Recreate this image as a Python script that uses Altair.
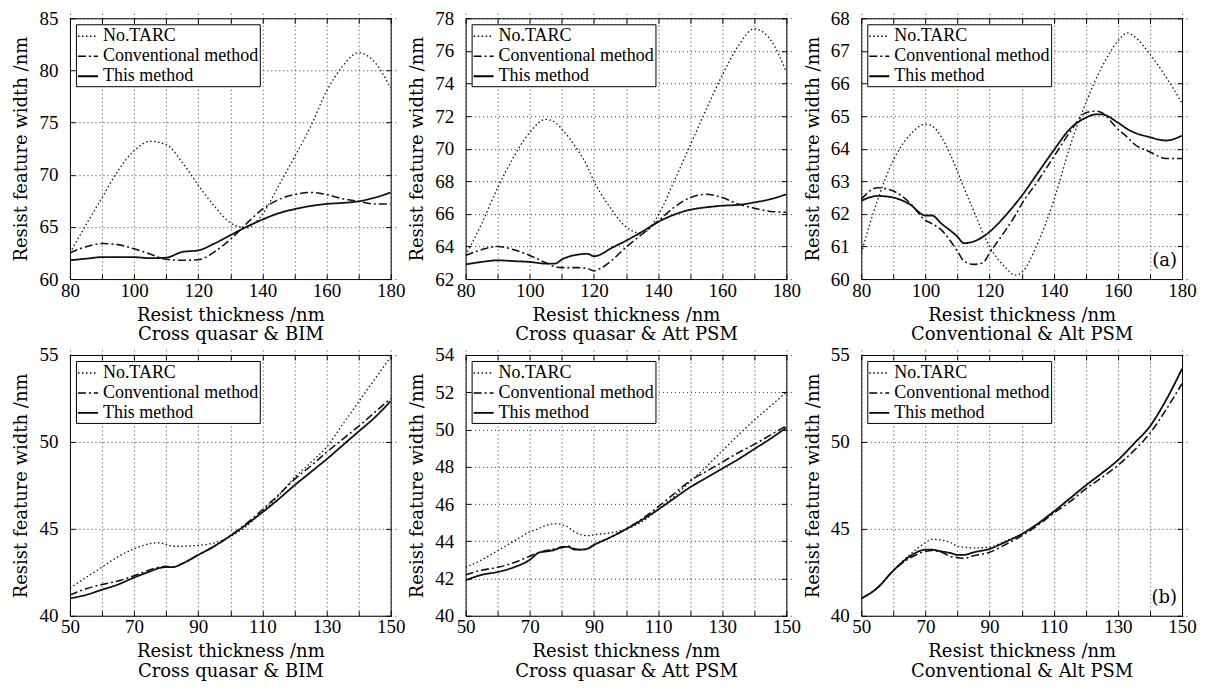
import altair as alt
import pandas as pd

SERIES = ["No.TARC", "Conventional method", "This method"]
DASHES = [[1.5, 2.5], [8, 3, 2, 3], [1, 0]]
WIDTHS = [1.3, 1.8, 2.5]

# ---------- top row (a) ----------
X1 = [80, 85, 90, 95, 100, 105, 110, 115, 120, 125, 130, 135, 140, 145, 150, 155, 160, 165, 170, 175, 180]
NOTARC1 = [62.5, 65.2, 67.8, 70.4, 72.3, 73.2, 72.9, 71.2, 69.0, 67.0, 65.4, 64.9, 66.2, 68.9, 71.7, 74.6, 78.0, 80.4, 81.7, 80.8, 78.3]
CONV1 = [62.5, 63.1, 63.4, 63.3, 62.9, 62.4, 61.9, 61.8, 61.85, 62.6, 63.8, 65.3, 66.7, 67.6, 68.1, 68.3, 68.1, 67.7, 67.45, 67.2, 67.2]
THIS1 = [61.8, 61.95, 62.1, 62.1, 62.1, 62.0, 62.05, 62.6, 62.75, 63.4, 64.2, 65.0, 65.7, 66.3, 66.7, 67.0, 67.2, 67.3, 67.45, 67.8, 68.3]

X2 = [80, 85, 90, 95, 100, 105, 108, 110, 115, 118, 120, 122, 125, 130, 135, 140, 145, 150, 155, 160, 165, 170, 175, 180]
NOTARC2 = [63.45, 65.4, 67.6, 69.5, 71.0, 71.8, 71.6, 71.2, 69.9, 68.9, 68.0, 67.3, 66.4, 65.2, 64.8, 65.9, 68.0, 70.2, 72.4, 74.5, 76.3, 77.35, 76.7, 74.7]
CONV2 = [63.45, 63.8, 64.0, 63.8, 63.45, 63.0, 62.75, 62.7, 62.7, 62.65, 62.5, 62.65, 63.05, 63.95, 64.75, 65.55, 66.4, 67.0, 67.2, 67.0, 66.6, 66.35, 66.15, 66.1]
THIS2 = [62.9, 63.05, 63.15, 63.1, 63.05, 62.95, 62.95, 63.2, 63.5, 63.55, 63.4, 63.5, 63.85, 64.35, 64.9, 65.5, 65.95, 66.25, 66.4, 66.5, 66.55, 66.7, 66.9, 67.2]

X3 = [80, 85, 90, 95, 100, 102, 105, 110, 112, 115, 118, 120, 125, 128, 130, 135, 140, 145, 150, 153, 155, 160, 163, 165, 170, 175, 180]
NOTARC3 = [60.8, 62.4, 63.65, 64.4, 64.75, 64.7, 64.35, 63.3, 62.8, 62.1, 61.4, 61.0, 60.35, 60.12, 60.2, 61.1, 62.4, 64.05, 65.4, 66.1, 66.5, 67.3, 67.55, 67.45, 66.9, 66.2, 65.4]
CONV3 = [62.45, 62.8, 62.7, 62.35, 61.8, 61.7, 61.5, 60.85, 60.55, 60.45, 60.5, 60.8, 61.5, 61.95, 62.3, 63.0, 63.75, 64.5, 65.1, 65.15, 65.1, 64.6, 64.35, 64.15, 63.9, 63.7, 63.7]
THIS3 = [62.4, 62.55, 62.5, 62.3, 61.95, 61.95, 61.7, 61.3, 61.1, 61.15, 61.3, 61.45, 61.95, 62.3, 62.55, 63.25, 63.95, 64.6, 64.95, 65.05, 65.05, 64.8, 64.6, 64.5, 64.35, 64.25, 64.4]

# ---------- bottom row (b) ----------
X4 = [50, 55, 60, 65, 70, 75, 78, 80, 82, 85, 90, 95, 100, 105, 110, 115, 120, 125, 130, 135, 140, 145, 150]
NOTARC4 = [41.6, 42.2, 42.8, 43.4, 43.85, 44.15, 44.2, 44.1, 44.0, 44.0, 44.05, 44.2, 44.55, 45.15, 46.0, 46.9, 47.95, 48.8, 49.7, 51.0, 52.3, 53.6, 54.9]
CONV4 = [41.2, 41.55, 41.8, 42.0, 42.3, 42.65, 42.8, 42.85, 42.8, 43.0, 43.5, 44.0, 44.6, 45.3, 46.1, 46.95, 47.85, 48.6, 49.4, 50.15, 50.9, 51.7, 52.5]
THIS4 = [41.0, 41.2, 41.5, 41.8, 42.2, 42.55, 42.75, 42.8, 42.8, 43.0, 43.5, 44.0, 44.6, 45.25, 45.95, 46.7, 47.5, 48.25, 49.0, 49.8, 50.6, 51.4, 52.35]

X5 = [50, 55, 60, 65, 70, 73, 75, 78, 80, 82, 84, 86, 88, 90, 95, 100, 105, 110, 115, 120, 125, 130, 135, 140, 145, 150]
NOTARC5 = [42.6, 43.0, 43.5, 44.0, 44.5, 44.7, 44.85, 44.95, 44.9, 44.75, 44.5, 44.35, 44.3, 44.35, 44.45, 44.65, 45.05, 45.7, 46.4, 47.2, 48.0, 48.85, 49.7, 50.5, 51.25, 52.0]
CONV5 = [42.2, 42.45, 42.6, 42.85, 43.2, 43.4, 43.5, 43.6, 43.65, 43.75, 43.6, 43.55, 43.6, 43.8, 44.2, 44.65, 45.2, 45.85, 46.55, 47.25, 47.75, 48.25, 48.75, 49.2, 49.7, 50.2]
THIS5 = [41.9, 42.2, 42.35, 42.6, 43.0, 43.4, 43.45, 43.55, 43.7, 43.7, 43.55, 43.55, 43.6, 43.8, 44.2, 44.65, 45.15, 45.7, 46.3, 46.9, 47.4, 47.9, 48.4, 48.95, 49.5, 50.1]

X6 = [50, 55, 60, 65, 70, 72, 75, 78, 80, 82, 85, 90, 95, 100, 105, 110, 115, 120, 125, 130, 135, 140, 145, 150]
NOTARC6 = [41.0, 41.6, 42.6, 43.5, 44.2, 44.4, 44.35, 44.2, 44.0, 43.95, 43.9, 43.95, 44.3, 44.7, 45.25, 45.95, 46.7, 47.5, 48.2, 48.95, 49.9, 50.9, 52.4, 54.2]
CONV6 = [41.0, 41.6, 42.6, 43.3, 43.7, 43.75, 43.65, 43.4, 43.35, 43.3, 43.45, 43.65, 44.1, 44.6, 45.2, 45.9, 46.55, 47.3, 47.95, 48.65, 49.5, 50.5, 51.85, 53.35]
THIS6 = [41.0, 41.6, 42.6, 43.4, 43.8, 43.8, 43.7, 43.6, 43.5, 43.5, 43.65, 43.85, 44.25, 44.7, 45.3, 46.0, 46.75, 47.5, 48.2, 48.95, 49.9, 50.9, 52.4, 54.2]

XT_TOP = [80, 90, 100, 110, 120, 130, 140, 150, 160, 170, 180]
XT_BOT = [50, 60, 70, 80, 90, 100, 110, 120, 130, 140, 150]

W, H = 321, 261


def panel(x, ys, xdom, xvals, xstart, ydom, yvals, subtitle, tag=None):
    rows = []
    for name, y in zip(SERIES, ys):
        for xi, yi in zip(x, y):
            rows.append({"t": xi, "w": yi, "s": name})
    df = pd.DataFrame(rows)
    xscale = alt.Scale(domain=xdom, nice=False, zero=False)
    yscale = alt.Scale(domain=ydom, nice=False, zero=False)
    leg = alt.Legend(
        title=None, orient="top-left", offset=6, padding=1,
        strokeColor="black", fillColor="white",
        labelFont="Liberation Serif", labelFontSize=18, labelColor="black",
        symbolType="stroke", symbolSize=400, symbolStrokeColor="black",
        rowPadding=-1, labelOffset=4, cornerRadius=0,
    )
    lines = alt.Chart(df).mark_line(color="#111", interpolate="monotone", clip=True).encode(
        x=alt.X("t:Q", scale=xscale, axis=alt.Axis(
            values=xvals,
            labelExpr=f"(datum.value - {xstart}) % 20 == 0 ? datum.label : ''",
            title=["Resist thickness /nm", subtitle],
        )),
        y=alt.Y("w:Q", scale=yscale, axis=alt.Axis(values=yvals, title="Resist feature width /nm")),
        strokeDash=alt.StrokeDash("s:N", scale=alt.Scale(domain=SERIES, range=DASHES), legend=leg),
        strokeWidth=alt.StrokeWidth("s:N", scale=alt.Scale(domain=SERIES, range=WIDTHS), legend=leg),
    )
    ticks = alt.Chart(df).mark_point(opacity=0).encode(
        x=alt.X("t:Q", scale=xscale, axis=alt.Axis(
            orient="top", values=xvals, labels=False, grid=False, title=None)),
        y=alt.Y("w:Q", scale=yscale, axis=alt.Axis(
            orient="right", values=yvals, labels=False, grid=False, title=None)),
    )
    layers = [lines, ticks]
    if tag:
        txt = alt.Chart(pd.DataFrame({"tag": [tag]})).mark_text(
            font="DejaVu Serif", fontSize=18, align="right", baseline="middle", color="black"
        ).encode(x=alt.value(W - 5), y=alt.value(H - 18), text="tag:N")
        layers.append(txt)
    return alt.layer(*layers).resolve_axis(x="independent", y="independent").properties(width=W, height=H)


p1 = panel(X1, [NOTARC1, CONV1, THIS1], [80, 180], XT_TOP, 80, [60, 85], [60, 65, 70, 75, 80, 85], "Cross quasar & BIM")
p2 = panel(X2, [NOTARC2, CONV2, THIS2], [80, 180], XT_TOP, 80, [62, 78], [62, 64, 66, 68, 70, 72, 74, 76, 78], "Cross quasar & Att PSM")
p3 = panel(X3, [NOTARC3, CONV3, THIS3], [80, 180], XT_TOP, 80, [60, 68], [60, 61, 62, 63, 64, 65, 66, 67, 68], "Conventional & Alt PSM", "(a)")
p4 = panel(X4, [NOTARC4, CONV4, THIS4], [50, 150], XT_BOT, 50, [40, 55], [40, 45, 50, 55], "Cross quasar & BIM")
p5 = panel(X5, [NOTARC5, CONV5, THIS5], [50, 150], XT_BOT, 50, [40, 54], [40, 42, 44, 46, 48, 50, 52, 54], "Cross quasar & Att PSM")
p6 = panel(X6, [NOTARC6, CONV6, THIS6], [50, 150], XT_BOT, 50, [40, 55], [40, 45, 50, 55], "Conventional & Alt PSM", "(b)")


def row(*cs):
    return alt.hconcat(*cs, spacing=75, bounds="flush").resolve_scale(
        strokeDash="independent", strokeWidth="independent").resolve_legend(
        strokeDash="independent", strokeWidth="independent")


chart = alt.vconcat(row(p1, p2, p3), row(p4, p5, p6), spacing=0).resolve_scale(
    strokeDash="independent", strokeWidth="independent").resolve_legend(
    strokeDash="independent", strokeWidth="independent").properties(
    padding={"left": 4, "top": 0, "right": 5, "bottom": 5}, background="white"
).configure_view(stroke="black", strokeWidth=1).configure_axis(
    labelFont="Liberation Serif", labelFontSize=19, labelColor="black",
    titleFont="DejaVu Serif", titleFontSize=18, titleFontWeight="normal", titleColor="black",
    gridColor="#222", gridDash=[1, 3], gridWidth=0.9, gridOpacity=1,
    domain=False, tickColor="black", tickSize=5, tickWidth=1, offset=-5,
    labelFlush=False, labelOverlap=False,
).configure_axisX(labelPadding=2, titlePadding=6, titleLineHeight=20).configure_axisY(
    labelPadding=12, titlePadding=8
).configure_legend(strokeWidth=1)

chart.save("out.html", embed_options={"renderer": "svg", "actions": False})
